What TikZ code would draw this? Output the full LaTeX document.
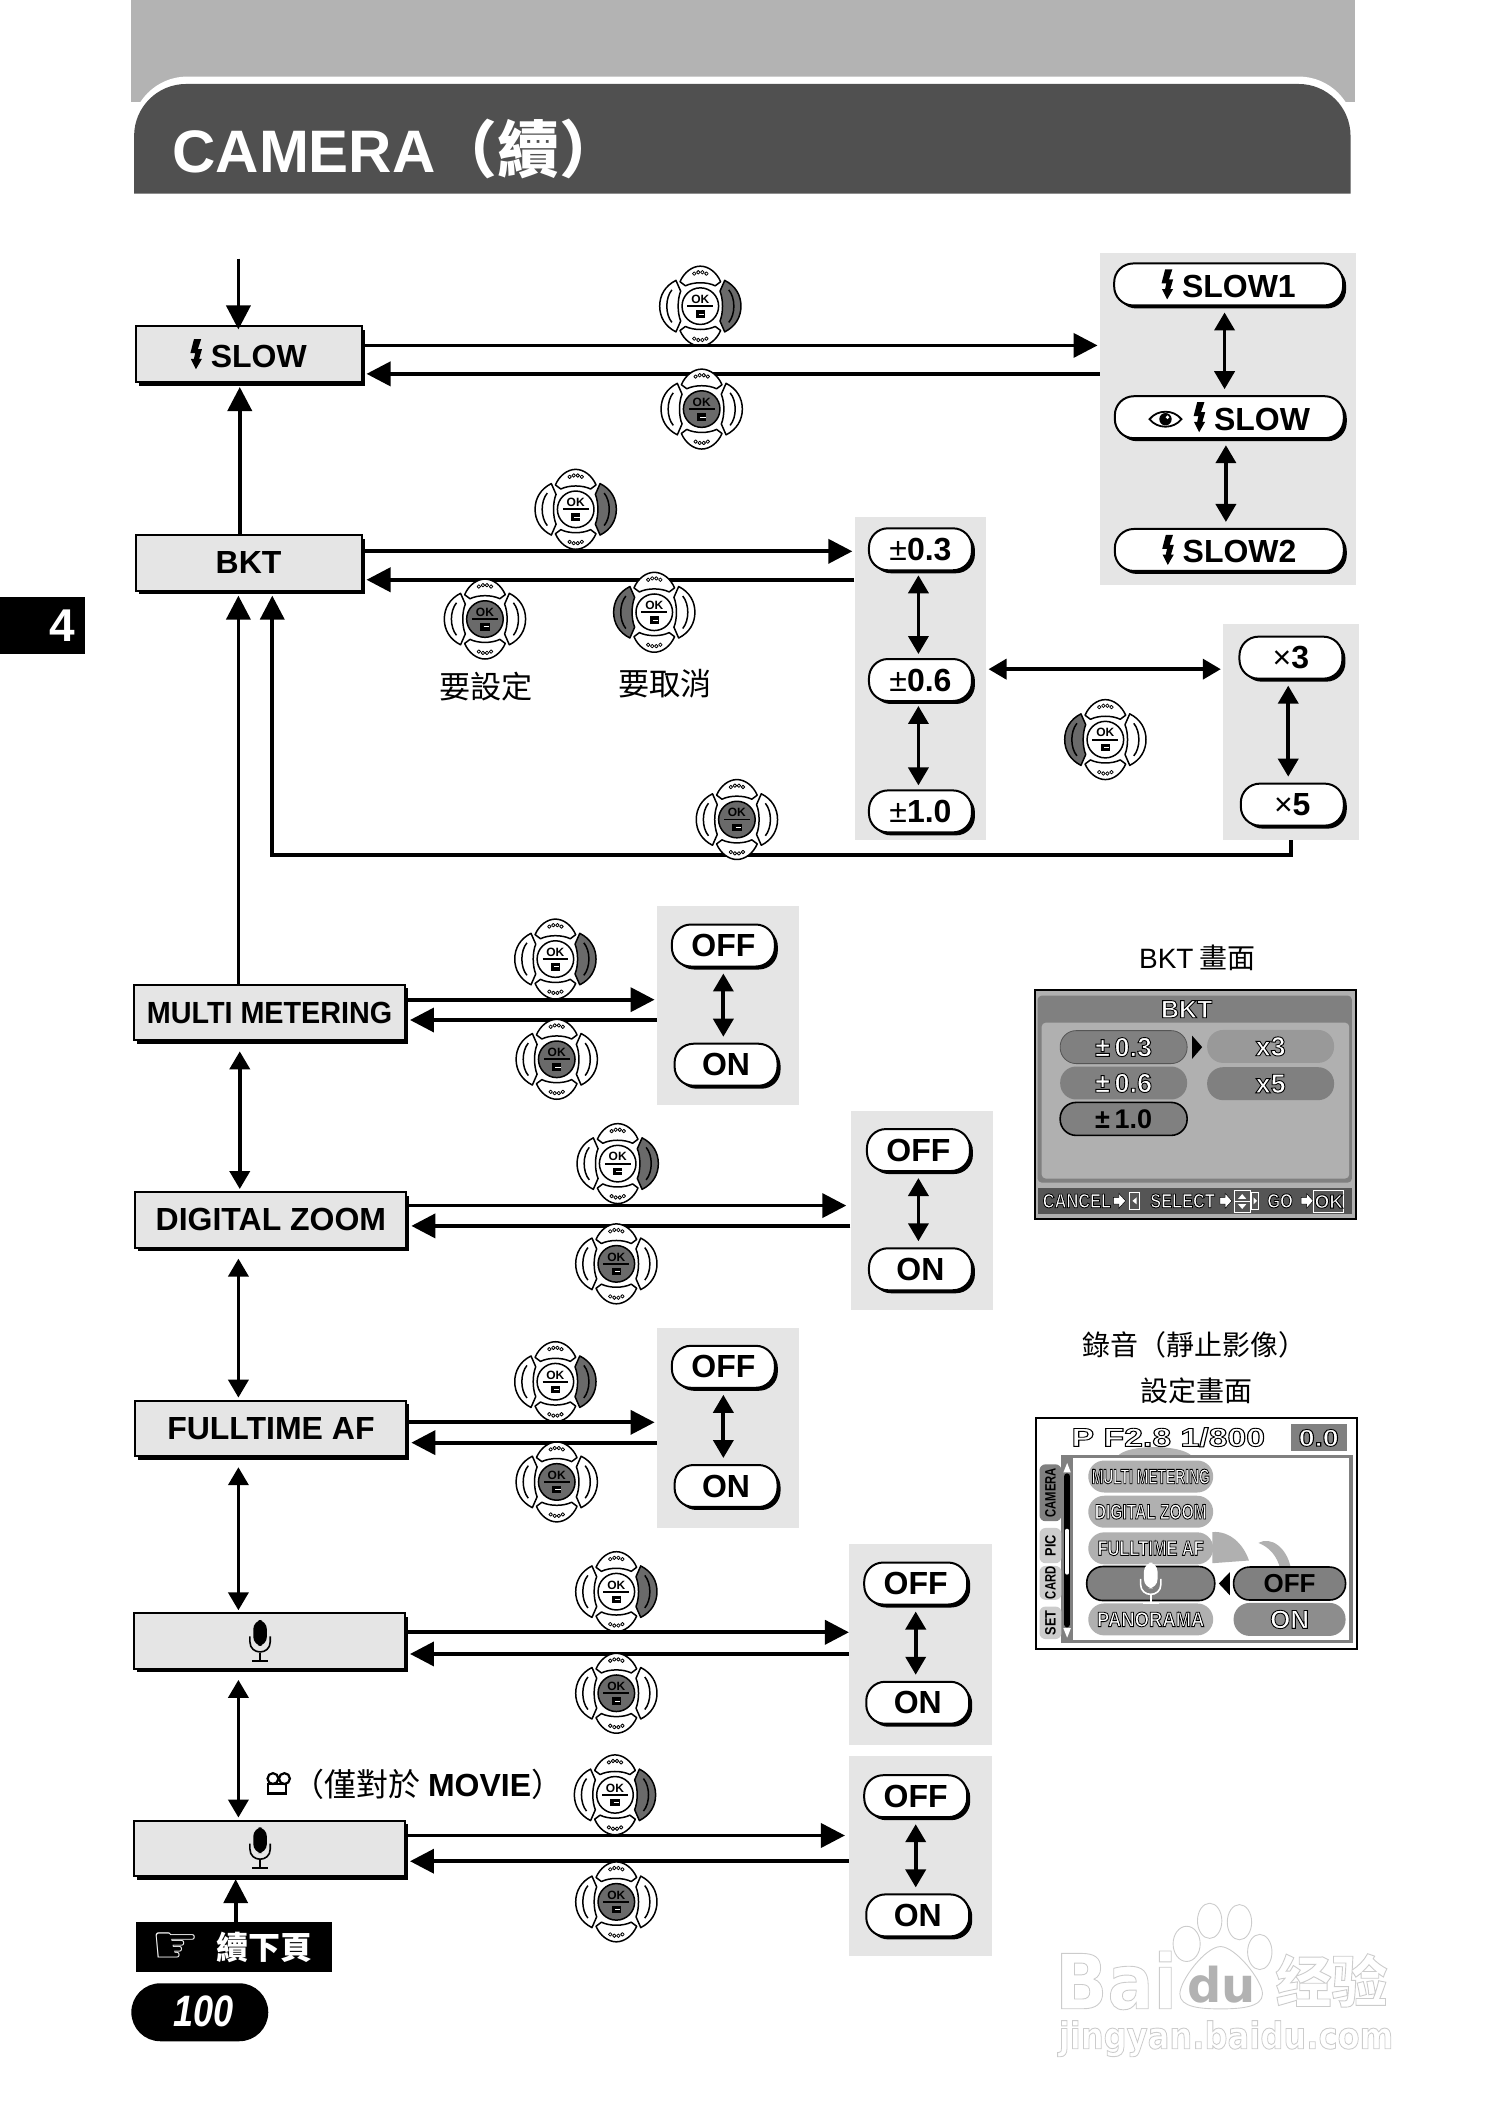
\documentclass[tikz,border=0pt]{standalone}
\usepackage{fontspec}
\usepackage{xcolor}
\setmainfont{Liberation Sans}
\newfontfamily\cjk{Noto Sans CJK TC}
\newfontfamily\cjksc{Noto Sans CJK SC}
\newfontfamily\symfont{DejaVu Sans}
\newfontfamily\latinfont{Liberation Sans}
\usetikzlibrary{positioning,arrows.meta,calc,shadows}
\definecolor{panelgray}{HTML}{E5E5E5}
\definecolor{bandgray}{HTML}{B3B3B3}
\definecolor{titlegray}{HTML}{505050}
\definecolor{padgray}{HTML}{6A6A6A}
\definecolor{lcdbase}{HTML}{B0B0B0}
\definecolor{lcdmid}{HTML}{808080}
\definecolor{lcddark}{HTML}{555555}
\newcommand{\fsz}[1]{\fontsize{#1}{#1}\selectfont}
\newcommand{\flashicon}{\tikz[baseline=0pt,x=1pt,y=1pt,sharp corners]\fill (2,14)--(5.6,14)--(3.9,9)--(6,9)--(4.6,4.2)--(6,4.2)--(3,-1)--(0.4,4.2)--(2,4.2)--(2.6,7)--(0.2,7)--cycle;}
\newcommand{\eyeicon}{\tikz[baseline=0pt,x=1pt,y=1pt,sharp corners]{\draw[line width=0.9pt] (0,5.5) .. controls (4,10.5) and (12,10.5) .. (16,5.5) .. controls (12,0.5) and (4,0.5) .. (0,5.5) -- cycle; \fill (8,5.5) circle (3.1); \fill[white] (9,6.5) circle (0.9);}}
\newcommand{\lcdtext}[1]{\special{pdf:code q 2 Tr 0.45 w 0 G 1 g}#1\special{pdf:code Q}}
\newcommand{\wmtext}[1]{\special{pdf:code q 2 Tr 0.45 w 0.8 G 1 g}#1\special{pdf:code Q}}
% one four way pad: name, x, y, left, right, centre
\newcommand{\okpad}[6]{%
  \begin{scope}[shift={(#2,#3)}, line width=0.75pt, line join=round]
    \foreach \sgn/\col in {-1/#4, 1/#5} {
      \filldraw[fill=\col, xscale=\sgn] (18,-19) .. controls (26,-15) and (30,-8) .. (30,0) .. controls (30,8) and (26,15) .. (18,19) -- (14.5,11) .. controls (17,5) and (17,-5) .. (14.5,-11) -- cycle;
      \draw[xscale=\sgn] (21,-12) .. controls (26,-6) and (26,6) .. (21,12);
    }
    \foreach \sgn in {-1,1} {
      \filldraw[fill=white, yscale=\sgn] (-15,-18) .. controls (-12,-25) and (-6,-29.5) .. (0,-29.5) .. controls (6,-29.5) and (12,-25) .. (15,-18) -- (11,-15) .. controls (5,-18) and (-5,-18) .. (-11,-15) -- cycle;
      \foreach \dx/\dy in {-4.5/-24, -1.5/-25, 1.5/-25, 4.5/-24}
        \draw[yscale=\sgn, line width=0.4pt] (\dx,\dy) circle (1.3);
    }
    \filldraw[fill=#6] (0,0) circle (13.5);
    \node[font=\fsz{6}\bfseries, inner sep=0pt] (#1ok) at (0,-5) {OK};
    \draw[line width=0.9pt] (-9.5,0) -- (9.5,0);
    \fill (-3.5,3) rectangle (3.5,8.5);
    \draw[white, line width=0.3pt] (-1,5.7) -- (3,5.7);
  \end{scope}}
\tikzset{
  micicon/.pic={
    \fill[rounded corners=4.5] (-5,-15) rectangle (5,4);
    \draw[line width=0.8pt] (-7.5,-3) -- (-7.5,1) .. controls (-7.5,11) and (7.5,11) .. (7.5,1) -- (7.5,-3);
    \draw[line width=0.9pt] (0,9) -- (0,15);
    \draw[line width=0.9pt] (-6,15) -- (6,15);
  }
}
\begin{document}
\begin{tikzpicture}[
    x=0.6776pt, y=-0.6776pt,
    >={Triangle[length=12pt,width=12pt]},
    flow/.style={->, line width=1.9pt},
    swap/.style={<->, line width=1.9pt, >={Triangle[length=9pt,width=10pt]}},
    menubox/.style={rectangle, draw, line width=1pt, fill=panelgray, minimum height=27.8pt, inner sep=0pt, font=\fsz{16}\bfseries, drop shadow={shadow xshift=1.5pt, shadow yshift=-1.8pt, fill=black, opacity=1}},
    narrowbox/.style={menubox, minimum width=113pt},
    widebox/.style={menubox, minimum width=135.5pt},
    groupbg/.style={rectangle, fill=panelgray, inner sep=0pt},
    pill/.style={rectangle, rounded corners=9.5pt, draw, line width=1pt, fill=white, minimum width=51.5pt, minimum height=21pt, inner sep=0pt, font=\fsz{16}\bfseries, drop shadow={shadow xshift=1.5pt, shadow yshift=-1.5pt, fill=black, opacity=1}},
    longpill/.style={pill, minimum width=114.5pt},
    caption/.style={font=\cjk\fsz{14}, inner sep=0pt},
    choice/.style={font=\cjk\fsz{15.6}, inner sep=0pt},
    lcdpill/.style={rectangle, rounded corners=8pt, fill=lcdmid, minimum width=63.5pt, minimum height=16.5pt, inner sep=0pt, font=\fsz{13.5}\bfseries},
    lcdmenu/.style={rectangle, rounded corners=8pt, fill=lcdbase, minimum width=62.5pt, minimum height=16pt, inner sep=0pt, font=\fsz{10.5}\bfseries},
    lcdtab/.style={rectangle, rounded corners=3pt, fill=black!20, minimum height=11pt, inner sep=0pt, font=\fsz{7.5}\bfseries}
]
    \useasboundingbox (0,0) rectangle (1098,1568);
    % page head
    \fill[bandgray] (97,0) rectangle (1000,75);
    \fill[white, rounded corners=28] (97,143) -- (97,56.5) -- (1000,56.5) -- (1000,143);
    \fill[titlegray, rounded corners=26] (99,143) -- (99,62) -- (997,62) -- (997,143);
    \node[anchor=west, inner sep=0pt, text=white, font=\fsz{30}\bfseries] (title) at (127,110) {CAMERA{\cjk\fsz{31}（續）}};
    \node[rectangle, fill=black, minimum width=42.7pt, minimum height=28.5pt, inner sep=0pt] (chapter) at (31.5,462) {};
    \node[text=white, font=\fsz{23}\bfseries, inner sep=0pt] (chapternum) at (46,462) {4};

    % grey panels behind the choices
    \foreach \nm/\xa/\ya/\xb/\yb in {slowgroup/812/187/1001/432, bktgroup/631/382/728/620, countgroup/903/461/1003/620,
        metergroup/485/669/590/816, zoomgroup/628/820/733/967, afgroup/485/980/590/1128,
        mica/627/1140/732/1288, micb/627/1296/732/1444}
      \node[groupbg, minimum width={(\xb-\xa)*0.6776pt}, minimum height={(\yb-\ya)*0.6776pt}] (\nm) at ({(\xa+\xb)/2},{(\ya+\yb)/2}) {};

    % pads that the arrows run over
    \foreach \n/\px/\py/\pl/\pr in {a/517/226/white/padgray, b/425/376/white/padgray, c/410/708/white/padgray, d/456/859/white/padgray,
        e/410/1020/white/padgray, f/455/1175/white/padgray, g/454/1325/white/padgray}
      {\okpad{pad\n}{\px}{\py}{\pl}{\pr}{white}}

    % menu column
    \node[narrowbox] (slow) at (183.5,261.5) {\flashicon\ SLOW};
    \node[narrowbox] (bkt) at (183.5,415.5) {BKT};
    \node[widebox, font=\fsz{15.3}\bfseries] (multi) at (199,747.5) {\scalebox{0.94}[1]{MULTI METERING}};
    \node[widebox] (digital) at (200,900.5) {DIGITAL ZOOM};
    \node[widebox] (fullaf) at (200,1054.5) {FULLTIME AF};
    \node[widebox] (voicea) at (199,1211.5) {};
    \node[widebox] (voiceb) at (199,1364.5) {};
    \pic at (192,1211) {micicon};
    \pic at (192,1364) {micicon};

    % choices
    \node[longpill] (slowa) at (907,210) {\flashicon\ SLOW1};
    \node[longpill] (sloweye) at (907.5,308) {\eyeicon\hspace{0.35em}\flashicon\ SLOW};
    \node[longpill] (slowb) at (907.5,406) {\flashicon\ SLOW2};
    \foreach \nm/\cx/\cy/\txt in {bkta/679.5/405.5/{\mdseries ±}0.3, bktb/679.5/502/{\mdseries ±}0.6, bktc/679.5/599/{\mdseries ±}1.0, countx/953/485.5/{\mdseries ×}3, county/954/594/{\mdseries ×}5,
        meteroff/534/698/OFF, meteron/536/786/ON, zoomoff/678/849/OFF, zoomon/679.5/937/ON,
        afoff/534/1009/OFF, afon/536/1097/ON, micaoff/676/1169/OFF, micaon/677.5/1257/ON,
        micboff/676/1326/OFF, micbon/677.5/1414/ON}
      \node[pill] (\nm) at (\cx,\cy) {\txt};

    % arrows
    \coordinate (start) at (176,191);
    \draw[flow, shorten >=-2pt] (start) -- (176,0 |- slow.north);
    \draw[flow, shorten >=2pt] (177,0 |- bkt.north) -- (177,0 |- slow.south);
    \draw[flow, shorten >=2pt] (176,0 |- multi.north) -- (176,0 |- bkt.south);
    \draw[flow, shorten >=2pt] (953,0 |- countgroup.south) -- (953,631) -| (201,0 |- bkt.south);
    \draw[swap, shorten >=1pt, shorten <=5pt] (177,0 |- multi.south) -- (177,0 |- digital.north);
    \draw[swap, shorten >=1pt, shorten <=5pt] (176,0 |- digital.south) -- (176,0 |- fullaf.north);
    \draw[swap, shorten >=1pt, shorten <=5pt] (176,0 |- fullaf.south) -- (176,0 |- voicea.north);
    \draw[swap, shorten >=1pt, shorten <=5pt] (176,0 |- voicea.south) -- (176,0 |- voiceb.north);
    \draw[flow, shorten >=1pt] (slow.east |- 0,255) -- (slowgroup.west |- 0,255);
    \draw[flow, shorten >=2pt] (slowgroup.west |- 0,276) -- (slow.east |- 0,276);
    \draw[flow, shorten >=1pt] (bkt.east |- 0,407) -- (bktgroup.west |- 0,407);
    \draw[flow, shorten >=2pt] (bktgroup.west |- 0,428) -- (bkt.east |- 0,428);
    \draw[flow, shorten >=1pt] (multi.east |- 0,738) -- (metergroup.west |- 0,738);
    \draw[flow, shorten >=2pt] (metergroup.west |- 0,753) -- (multi.east |- 0,753);
    \draw[flow, shorten >=2pt] (digital.east |- 0,890) -- (zoomgroup.west |- 0,890);
    \draw[flow, shorten >=2pt] (zoomgroup.west |- 0,905) -- (digital.east |- 0,905);
    \draw[flow, shorten >=1pt] (fullaf.east |- 0,1050) -- (afgroup.west |- 0,1050);
    \draw[flow, shorten >=2pt] (afgroup.west |- 0,1065) -- (fullaf.east |- 0,1065);
    \draw[flow] (voicea.east |- 0,1205) -- (mica.west |- 0,1205);
    \draw[flow, shorten >=2pt] (mica.west |- 0,1221) -- (voicea.east |- 0,1221);
    \draw[flow, shorten >=2pt] (voiceb.east |- 0,1355) -- (micb.west |- 0,1355);
    \draw[flow, shorten >=2pt] (micb.west |- 0,1374) -- (voiceb.east |- 0,1374);
    \draw[swap, shorten >=3pt, shorten <=3pt] (904,0 |- slowa.south) -- (904,0 |- sloweye.north);
    \draw[swap, shorten >=3pt, shorten <=3pt] (905,0 |- sloweye.south) -- (905,0 |- slowb.north);
    \draw[swap, shorten >=2pt, shorten <=2pt] (678,0 |- bkta.south) -- (678,0 |- bktb.north);
    \draw[swap, shorten >=2pt, shorten <=2pt] (678,0 |- bktb.south) -- (678,0 |- bktc.north);
    \draw[swap, shorten >=3pt, shorten <=3pt] (951,0 |- countx.south) -- (951,0 |- county.north);
    \draw[swap, shorten >=1pt, shorten <=1pt] (bktgroup.east |- 0,494) -- (countgroup.west |- 0,494);
    \draw[swap, shorten >=3pt, shorten <=3pt] (534,0 |- meteroff.south) -- (534,0 |- meteron.north);
    \draw[swap, shorten >=3pt, shorten <=3pt] (678,0 |- zoomoff.south) -- (678,0 |- zoomon.north);
    \draw[swap, shorten >=3pt, shorten <=3pt] (534,0 |- afoff.south) -- (534,0 |- afon.north);
    \draw[swap, shorten >=3pt, shorten <=3pt] (676,0 |- micaoff.south) -- (676,0 |- micaon.north);
    \draw[swap, shorten >=3pt, shorten <=3pt] (676,0 |- micboff.south) -- (676,0 |- micbon.north);

    % pads that sit over the arrows
    \foreach \n/\px/\py/\pl/\pr/\pc in {h/518/302/white/white/padgray, i/358/457/white/white/padgray, j/483/452/padgray/white/white,
        k/816/546/padgray/white/white, l/544/605/white/white/padgray, m/411/782/white/white/padgray, o/455/933/white/white/padgray,
        p/411/1094/white/white/padgray, q/455/1250/white/white/padgray, r/455/1404/white/white/padgray}
      {\okpad{pad\n}{\px}{\py}{\pl}{\pr}{\pc}}

    \node[choice] (setnote) at (359,507) {要設定};
    \node[choice] (cancelnote) at (491,505) {要取消};

    % movie note and footer
    \draw[line width=1.1pt] (198,1317) rectangle (211,1324);
    \draw[line width=1.1pt] (201.5,1313) circle (4) (210,1313) circle (4);
    \node[anchor=west, inner sep=0pt, font=\cjk\fsz{16}] (movienote) at (216,1317) {（僅對於 {\latinfont\bfseries MOVIE}）};
    \node[rectangle, fill=black, minimum width=98pt, minimum height=25pt, inner sep=0pt] (nextpage) at (172.5,1437.5) {};
    \node[text=white, inner sep=0pt, font=\symfont\fsz{27}] (nexthand) at (130,1438) {☞};
    \node[text=white, inner sep=0pt, font=\cjk\fsz{16}\bfseries] (nexttext) at (195,1438) {續下頁};
    \draw[flow, shorten >=1pt] (174,0 |- nextpage.north) -- (174,0 |- voiceb.south);
    \node[rectangle, rounded corners=14.5pt, fill=black, minimum width=68.5pt, minimum height=29pt, inner sep=0pt] (pagepill) at (147.5,1485.5) {};
    \node[text=white, inner sep=0pt, font=\fsz{22}\bfseries\itshape] (pagenum) at (150,1485) {\scalebox{0.82}[1]{100}};

    % BKT screen
    \node[caption] (bktcaption) at (884,707) {{\latinfont BKT} 畫面};
    \draw[line width=1pt, fill=lcdbase] (764,731) rectangle (1001,900);
    \fill[lcdmid, rounded corners=2] (766,735) rectangle (998,873);
    \fill[lcdbase, rounded corners=2] (769,755) rectangle (996,870);
    \fill[lcddark] (766,877) rectangle (998,896);
    \node[inner sep=0pt, font=\fsz{12.5}\bfseries] (bkttitle) at (876,745) {\lcdtext{BKT}};
    \node[lcdpill, draw=lcddark] (lcda) at (829.5,773) {\lcdtext{±\,0.3}};
    \node[lcdpill] (lcdb) at (829.5,799.5) {\lcdtext{±\,0.6}};
    \node[lcdpill, draw=black, line width=0.8pt] (lcdc) at (829.5,826) {±\,1.0};
    \fill (880,764.5) -- (887.5,773) -- (880,781.7) -- cycle;
    \node[lcdpill, fill=black!40] (lcdx) at (938,772.5) {\lcdtext{x3}};
    \node[lcdpill] (lcdy) at (938,800) {\lcdtext{x5}};
    \foreach \nm/\cx/\txt in {lcdcancel/795/CANCEL, lcdselect/873/SELECT, lcdgo/945/GO}
      \node[inner sep=0pt, font=\fsz{10}\bfseries] (\nm) at (\cx,886.5) {\scalebox{0.82}[1]{\lcdtext{\txt}}};
    \foreach \ax in {826,904.5,964.5} {
      \filldraw[fill=white, draw=black, line width=0.25pt] (\ax-4,884) -- (\ax,884) -- (\ax,881) -- (\ax+5,886.5) -- (\ax,892) -- (\ax,889) -- (\ax-4,889) -- cycle;
    }
    \draw[white, line width=0.5pt] (834,880) rectangle (841,893) (911,879) rectangle (923,895) (924,880) rectangle (929,893) (970,879) rectangle (992,895);
    \draw[white, line width=0.5pt] (911,887) -- (923,887);
    \fill[white] (839,884) -- (836,886.5) -- (839,889) -- cycle (925.5,884) -- (928,886.5) -- (925.5,889) -- cycle (914,885) -- (917,881.5) -- (920,885) -- cycle (914,889) -- (917,892.5) -- (920,889) -- cycle;
    \node[inner sep=0pt, font=\fsz{9.5}\bfseries] (lcdok) at (981,887) {\lcdtext{OK}};

    % voice screen
    \node[caption] (voicecapa) at (882,993) {錄音（靜止影像）};
    \node[caption] (voicecapb) at (883,1027) {設定畫面};
    \draw[line width=1pt, fill=white] (764.5,1047) rectangle (1001.5,1217);
    \fill[lcdmid!60] (825,1075) .. controls (832,1066) and (872,1066) .. (880,1075) -- cycle;
    \fill[lcdmid] (783.5,1074) rectangle (998.5,1213);
    \fill[white] (792,1076) rectangle (996,1211);
    \fill[lcdbase] (929,1139) .. controls (938,1134) and (950,1142) .. (953,1158) -- (945,1158) .. controls (943,1149) and (937,1142) .. (929,1139) -- cycle;
    \fill[lcdbase] (895,1131) .. controls (908,1130) and (918,1140) .. (922,1152) -- (895,1154) -- cycle;
    \node[inner sep=0pt, font=\fsz{13}\bfseries] (lcdexpo) at (862.5,1061) {\scalebox{1.3}[1]{\lcdtext{P F2.8 1/800}}};
    \node[rectangle, fill=lcdmid, minimum width=28pt, minimum height=13.5pt, inner sep=0pt, font=\fsz{12}\bfseries] (lcdzero) at (973.5,1061.5) {\scalebox{1.2}[1]{\lcdtext{0.0}}};
    \foreach \nm/\cy/\h/\txt/\sc/\shade in {tabset/1198/24/SET/0.85/20, tabcard/1168.5/25/CARD/0.75/20, tabpic/1141/26/PIC/0.85/20, tabcam/1102/42/CAMERA/0.75/50}
      \node[lcdtab, fill=black!\shade, rotate=90, minimum width={\h*0.6776pt}] (\nm) at (775.5,\cy) {\scalebox{\sc}[1]{\txt}};
    \draw[line width=3.2pt, line cap=round] (787.8,1090) -- (787.8,1199);
    \draw[white, line width=2pt, line cap=round] (787.8,1130) -- (787.8,1161);
    \fill[white] (785,1087) -- (787.8,1080) -- (790.5,1087) -- cycle;
    \fill[white] (785,1202) -- (787.8,1209) -- (790.5,1202) -- cycle;
    \foreach \nm/\cy/\txt/\sc in {lcdmulti/1090/MULTI METERING/0.66, lcddigital/1116/DIGITAL ZOOM/0.74, lcdfull/1143/FULLTIME AF/0.78, lcdpano/1195.5/PANORAMA/0.88}
      \node[lcdmenu] (\nm) at (849.5,\cy) {\scalebox{\sc}[1]{\lcdtext{\txt}}};
    \node[lcdmenu, fill=lcdmid, draw=black, line width=0.8pt, minimum width=64pt, minimum height=17pt] (lcdvoice) at (849.5,1169) {};
    \begin{scope}[shift={(849.5,1168.5)}, scale=0.62, white]
      \pic {micicon};
    \end{scope}
    \fill (908,1160.5) -- (899.8,1169) -- (908,1177.8) -- cycle;
    \node[lcdpill, draw=black, line width=0.8pt, minimum width=56pt, font=\fsz{13}\bfseries] (lcdoff) at (952,1169) {OFF};
    \node[lcdpill, fill=lcdmid!90, minimum width=56pt, font=\fsz{13}\bfseries] (lcdon) at (952,1195.5) {\lcdtext{ON}};

    % watermark
    \begin{scope}[black!20, line width=0.45pt]
      \draw (893,1418) ellipse (9 and 13) (915,1419) ellipse (9 and 13) (876,1435) ellipse (10 and 13) (930,1441) ellipse (9 and 13);
      \draw (901,1437) .. controls (912,1437) and (932,1462) .. (932,1472) .. controls (932,1482) and (915,1483) .. (901,1483) .. controls (887,1483) and (871,1482) .. (871,1472) .. controls (871,1462) and (890,1437) .. (901,1437) -- cycle;
      \node[inner sep=0pt, font=\symfont\bfseries\fsz{38}] (wmbai) at (824,1462) {\scalebox{0.9}[1]{\wmtext{Bai}}};
      \node[inner sep=0pt, text=black!30, font=\symfont\bfseries\fsz{24}] (wmdu) at (902,1465) {du};
      \node[inner sep=0pt, font=\cjksc\bfseries\fsz{28}] (wmjy) at (983,1462) {\wmtext{经验}};
      \node[inner sep=0pt, font=\symfont\bfseries\fsz{18.5}] (wmurl) at (905,1505) {\scalebox{0.87}[1]{\wmtext{jingyan.baidu.com}}};
    \end{scope}
\end{tikzpicture}
\end{document}
